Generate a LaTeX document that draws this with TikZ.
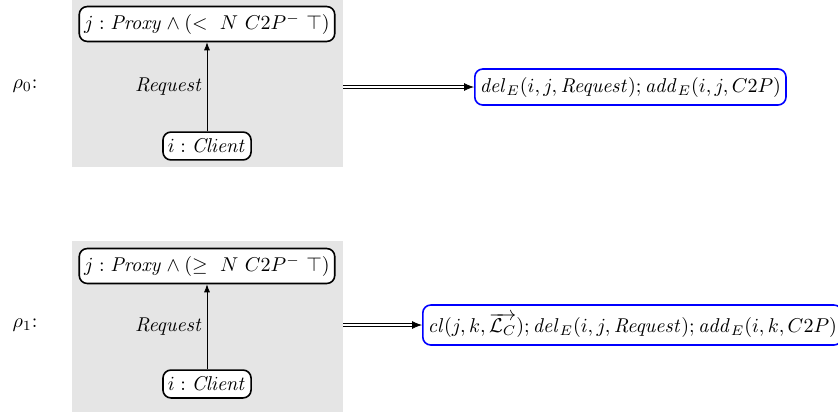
\documentclass[tikz,border=0pt]{standalone}
\usepackage{amssymb}
\usetikzlibrary{arrows.meta}
\begin{document}
\begin{tikzpicture}[x=0.5pt,y=-0.5pt,
  lhsbox/.style={draw=black, thick, rounded corners=4pt, fill=white, inner xsep=2.5pt, inner ysep=3.5pt},
  rhsbox/.style={draw=blue, thick, rounded corners=4pt, fill=white, inner xsep=2.5pt, inner ysep=4pt, anchor=west},
  edgearrow/.style={-{Latex[length=4pt,width=3pt]}, thin},
  edgelabel/.style={left, inner sep=2pt},
  rulearrow/.style={double, double distance=1.4pt, thin, -{Latex[length=5pt,width=4pt]}}]
\useasboundingbox (0,0) rectangle (838,412);
% row 1
\fill[gray!20] (72,0) rectangle (343,167);
\node[lhsbox] (j0) at (207,24) {$j: \mathit{Proxy} \wedge (<\ N\ C2P^{-}\ \top)$};
\node[lhsbox] (i0) at (207,146) {$i: \mathit{Client}$};
\draw[edgearrow] (i0) -- node[edgelabel] {$\mathit{Request}$} (j0);
\node (r0) at (25,86) {$\rho_0$:};
\coordinate (s0) at (343,87);
\node[rhsbox] (a0) at (474,87) {$\mathit{del}_E(i,j,\mathit{Request}); \mathit{add}_E(i,j,C2P)$};
\draw[rulearrow] (s0) -- (a0);
% row 2
\fill[gray!20] (72,241) rectangle (343,412);
\node[lhsbox] (j1) at (207,266) {$j: \mathit{Proxy} \wedge (\geq\ N\ C2P^{-}\ \top)$};
\node[lhsbox] (i1) at (207,384) {$i: \mathit{Client}$};
\draw[edgearrow] (i1) -- node[edgelabel] {$\mathit{Request}$} (j1);
\node (r1) at (25,325) {$\rho_1$:};
\coordinate (s1) at (343,325);
\node[rhsbox] (a1) at (422,325) {$\mathit{cl}(j,k,\overrightarrow{\mathcal{L}_C}); \mathit{del}_E(i,j,\mathit{Request}); \mathit{add}_E(i,k,C2P)$};
\draw[rulearrow] (s1) -- (a1);
\end{tikzpicture}
\end{document}
